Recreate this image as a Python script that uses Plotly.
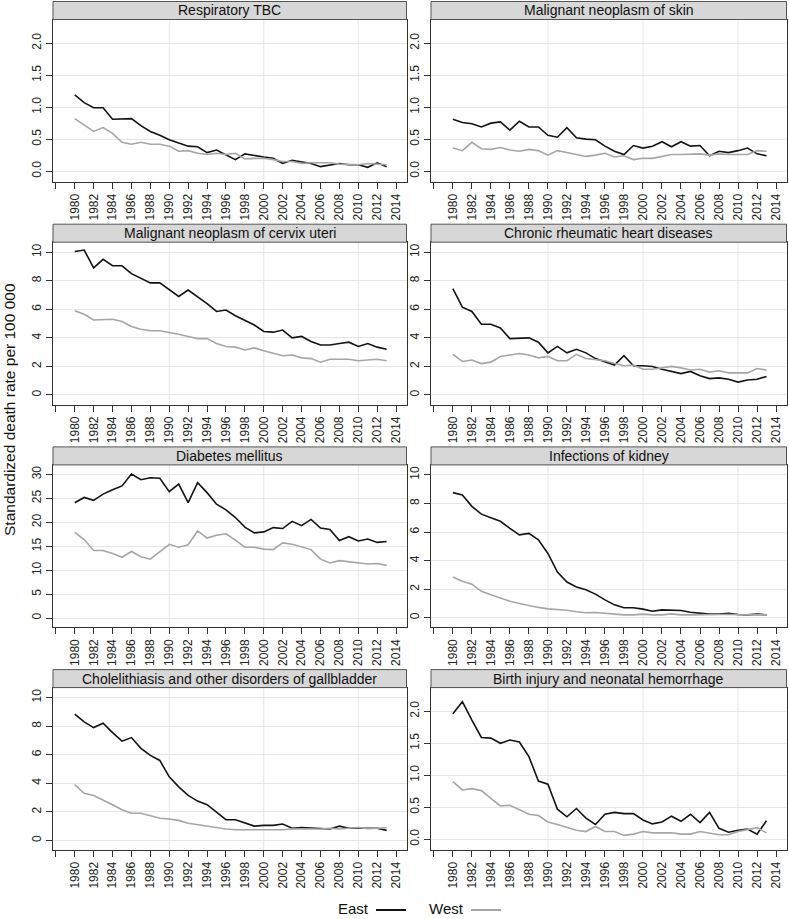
import plotly.graph_objects as go
from plotly.subplots import make_subplots

W, H = 789, 919

years = list(range(1980, 2014))

titles = [
    "Respiratory TBC", "Malignant neoplasm of skin",
    "Malignant neoplasm of cervix uteri", "Chronic rheumatic heart diseases",
    "Diabetes mellitus", "Infections of kidney",
    "Cholelithiasis and other disorders of gallbladder", "Birth injury and neonatal hemorrhage",
]

tbc_east = [1.19, 1.07, 0.99, 0.99, 0.81, 0.81, 0.82, 0.71, 0.62, 0.56, 0.49, 0.44, 0.39, 0.38, 0.29, 0.33, 0.26,
            0.18, 0.27, 0.24, 0.22, 0.20, 0.12, 0.17, 0.14, 0.12, 0.07, 0.09, 0.12, 0.10, 0.10, 0.06, 0.13, 0.07]
tbc_west = [0.82, 0.72, 0.62, 0.68, 0.59, 0.45, 0.42, 0.45, 0.42, 0.42, 0.39, 0.31, 0.32, 0.28, 0.26, 0.28, 0.26,
            0.28, 0.19, 0.20, 0.20, 0.18, 0.15, 0.15, 0.12, 0.13, 0.13, 0.13, 0.11, 0.10, 0.10, 0.12, 0.11, 0.10]

skin_east = [0.81, 0.76, 0.74, 0.69, 0.75, 0.77, 0.64, 0.78, 0.69, 0.69, 0.56, 0.53, 0.68, 0.52, 0.50, 0.49, 0.39,
             0.31, 0.26, 0.40, 0.36, 0.39, 0.46, 0.38, 0.46, 0.39, 0.40, 0.24, 0.31, 0.29, 0.32, 0.36, 0.27, 0.24]
skin_west = [0.36, 0.32, 0.45, 0.35, 0.34, 0.37, 0.33, 0.31, 0.34, 0.32, 0.25, 0.32, 0.29, 0.26, 0.23, 0.25, 0.28,
             0.22, 0.24, 0.18, 0.20, 0.20, 0.23, 0.26, 0.26, 0.26, 0.27, 0.25, 0.27, 0.26, 0.26, 0.26, 0.32, 0.31]

cervix_east = [10.05, 10.15, 8.9, 9.5, 9.05, 9.05, 8.5, 8.2, 7.85, 7.85, 7.35, 6.9, 7.35, 6.9, 6.4, 5.85, 5.95,
               5.55, 5.25, 4.9, 4.45, 4.4, 4.55, 4.0, 4.1, 3.75, 3.5, 3.5, 3.6, 3.7, 3.4, 3.6, 3.35, 3.2]
cervix_west = [5.9, 5.65, 5.25, 5.25, 5.3, 5.15, 4.8, 4.6, 4.5, 4.5, 4.4, 4.25, 4.1, 3.95, 3.95, 3.6, 3.4,
               3.35, 3.15, 3.3, 3.1, 2.95, 2.75, 2.8, 2.6, 2.55, 2.3, 2.5, 2.5, 2.5, 2.4, 2.45, 2.5, 2.4]

rheum_east = [7.45, 6.15, 5.85, 4.95, 4.95, 4.7, 3.95, 4.0, 4.0, 3.7, 2.95, 3.4, 2.95, 3.2, 2.95, 2.55, 2.3,
              2.1, 2.75, 2.05, 2.05, 2.0, 1.8, 1.65, 1.5, 1.65, 1.35, 1.15, 1.2, 1.1, 0.9, 1.05, 1.1, 1.3]
rheum_west = [2.85, 2.35, 2.45, 2.2, 2.3, 2.7, 2.8, 2.9, 2.8, 2.6, 2.7, 2.4, 2.4, 2.85, 2.55, 2.5, 2.4,
              2.2, 2.05, 2.1, 1.8, 1.8, 1.9, 2.0, 1.9, 1.75, 1.8, 1.6, 1.7, 1.55, 1.55, 1.55, 1.85, 1.75]

diab_east = [24.1, 25.2, 24.6, 25.9, 26.8, 27.6, 30.1, 28.9, 29.3, 29.2, 26.4, 28.0, 24.1, 28.3, 26.2, 23.8, 22.6,
             21.0, 19.0, 17.8, 18.0, 18.9, 18.7, 20.2, 19.3, 20.6, 18.8, 18.5, 16.2, 17.0, 16.1, 16.5, 15.8, 16.0]
diab_west = [17.9, 16.4, 14.1, 14.1, 13.5, 12.7, 13.9, 12.8, 12.3, 13.8, 15.4, 14.8, 15.3, 18.2, 16.7, 17.3, 17.6,
             16.3, 14.8, 14.8, 14.4, 14.3, 15.7, 15.4, 14.8, 14.3, 12.3, 11.5, 12.0, 11.8, 11.6, 11.3, 11.4, 11.0]

kidney_east = [8.76, 8.6, 7.8, 7.25, 7.0, 6.75, 6.25, 5.8, 5.9, 5.45, 4.5, 3.2, 2.5, 2.15, 1.95, 1.65, 1.25,
               0.9, 0.7, 0.7, 0.6, 0.45, 0.55, 0.5, 0.5, 0.38, 0.3, 0.25, 0.25, 0.3, 0.22, 0.2, 0.25, 0.2]
kidney_west = [2.85, 2.55, 2.35, 1.85, 1.6, 1.35, 1.15, 1.0, 0.85, 0.72, 0.62, 0.58, 0.52, 0.42, 0.35, 0.36, 0.3,
               0.27, 0.2, 0.2, 0.25, 0.2, 0.2, 0.27, 0.2, 0.2, 0.22, 0.22, 0.22, 0.22, 0.2, 0.18, 0.2, 0.2]

gall_east = [8.85, 8.3, 7.9, 8.2, 7.55, 6.95, 7.2, 6.45, 5.95, 5.6, 4.45, 3.75, 3.15, 2.75, 2.5, 1.95, 1.45,
             1.45, 1.25, 1.0, 1.05, 1.05, 1.15, 0.85, 0.9, 0.85, 0.8, 0.8, 1.0, 0.85, 0.85, 0.85, 0.85, 0.7]
gall_west = [3.9, 3.3, 3.15, 2.85, 2.5, 2.15, 1.9, 1.9, 1.7, 1.55, 1.5, 1.4, 1.2, 1.1, 0.98, 0.88, 0.8,
             0.75, 0.75, 0.75, 0.72, 0.72, 0.75, 0.8, 0.78, 0.8, 0.8, 0.85, 0.8, 0.85, 0.9, 0.82, 0.85, 0.88]

birth_east = [1.96, 2.15, 1.86, 1.59, 1.58, 1.50, 1.55, 1.52, 1.29, 0.91, 0.86, 0.47, 0.35, 0.48, 0.33, 0.23, 0.39,
              0.42, 0.40, 0.40, 0.30, 0.24, 0.27, 0.36, 0.28, 0.39, 0.26, 0.42, 0.17, 0.11, 0.14, 0.16, 0.08, 0.29]
birth_west = [0.90, 0.77, 0.79, 0.76, 0.64, 0.52, 0.53, 0.46, 0.39, 0.37, 0.27, 0.23, 0.19, 0.14, 0.12, 0.20, 0.12,
              0.12, 0.06, 0.08, 0.12, 0.10, 0.10, 0.10, 0.08, 0.08, 0.12, 0.09, 0.07, 0.07, 0.12, 0.15, 0.18, 0.10]

east = [tbc_east, skin_east, cervix_east, rheum_east, diab_east, kidney_east, gall_east, birth_east]
west = [tbc_west, skin_west, cervix_west, rheum_west, diab_west, kidney_west, gall_west, birth_west]

# y axis settings per panel: (range, tick values, tick labels)
small = ([-0.17, 2.37], [0, 0.5, 1, 1.5, 2], ["0.0", "0.5", "1.0", "1.5", "2.0"])
ten = ([-0.68, 10.7], [0, 2, 4, 6, 8, 10], ["0", "2", "4", "6", "8", "10"])
thirty = ([-1.96, 32.0], [0, 5, 10, 15, 20, 25, 30], ["0", "5", "10", "15", "20", "25", "30"])
yaxes = [small, small, ten, ten, thirty, ten, ten, small]

xtickvals = list(range(1978, 2015, 2))
xticktext = [""] + [str(v) for v in xtickvals[1:]]

EAST_COLOR = "#141414"
WEST_COLOR = "#a6a6a6"
FONT = "Arial, Liberation Sans, sans-serif"

# panel geometry in pixels
col_x = [(53, 406.5), (431, 786.5)]
row_top = [1.5, 224.2, 446.9, 669.6]
strip_h = 18
plot_h = 162.5

fig = make_subplots(rows=4, cols=2)

for i in range(8):
    r, c = i // 2 + 1, i % 2 + 1
    fig.add_trace(go.Scatter(x=years, y=east[i], mode="lines", name="East",
                             line=dict(color=EAST_COLOR, width=1.6), showlegend=False), row=r, col=c)
    fig.add_trace(go.Scatter(x=years, y=west[i], mode="lines", name="West",
                             line=dict(color=WEST_COLOR, width=1.6), showlegend=False), row=r, col=c)
    for gx in [1990, 2000, 2010]:
        fig.add_vline(x=gx, line=dict(color="#e6e6e6", width=1), layer="below", row=r, col=c)

    x0, x1 = col_x[c - 1]
    top = row_top[r - 1]
    p_top = top + strip_h
    p_bot = p_top + plot_h
    fig.update_xaxes(domain=[x0 / W, x1 / W], range=[1977.7, 2015.1],
                     tickmode="array", tickvals=xtickvals, ticktext=xticktext, tickangle=-90,
                     ticks="outside", ticklen=6, tickcolor="#333333", showgrid=False, zeroline=False,
                     showline=True, linecolor="#333333", linewidth=1, mirror=True,
                     tickfont=dict(size=12, color="#222222"), row=r, col=c)
    yr, yv, yt = yaxes[i]
    fig.update_yaxes(domain=[1 - p_bot / H, 1 - p_top / H], range=yr,
                     tickmode="array", tickvals=yv, ticktext=yt, tickangle=-90,
                     ticks="outside", ticklen=6, tickcolor="#333333", showgrid=True,
                     gridcolor="#e6e6e6", gridwidth=1, zeroline=False,
                     showline=True, linecolor="#333333", linewidth=1, mirror=True,
                     tickfont=dict(size=12, color="#222222"), row=r, col=c)

    # grey strip with the panel title
    fig.add_shape(type="rect", xref="paper", yref="paper",
                  x0=x0 / W, x1=x1 / W, y0=1 - p_top / H, y1=1 - top / H,
                  fillcolor="#d7d7d7", line=dict(color="#555555", width=1), layer="above")
    fig.add_annotation(text=titles[i], xref="paper", yref="paper",
                       x=(x0 + x1) / 2 / W, y=1 - (top + strip_h / 2) / H,
                       showarrow=False, font=dict(size=14, color="#111111"),
                       xanchor="center", yanchor="middle")

# y axis title
fig.add_annotation(text="Standardized death rate per 100 000", xref="paper", yref="paper",
                   x=9 / W, y=1 - 410 / H, textangle=-90, showarrow=False,
                   font=dict(size=15.5, color="#111111"), xanchor="center", yanchor="middle")

# legend: label to the left of its line sample
legend_y = 908
legend_items = [("East", EAST_COLOR, 371, 376, 406), ("West", WEST_COLOR, 466, 471, 501)]
for label, color, tx, lx0, lx1 in legend_items:
    fig.add_annotation(text=label, xref="paper", yref="paper", x=tx / W, y=1 - legend_y / H,
                       showarrow=False, xanchor="right", yanchor="middle",
                       font=dict(size=15, color="#111111"))
    fig.add_shape(type="line", xref="paper", yref="paper", x0=lx0 / W, x1=lx1 / W,
                  y0=1 - (legend_y + 2) / H, y1=1 - (legend_y + 2) / H, line=dict(color=color, width=2))

fig.update_layout(width=W, height=H, margin=dict(l=0, r=0, t=0, b=0),
                  paper_bgcolor="white", plot_bgcolor="white",
                  font=dict(family=FONT, size=12, color="#111111"), showlegend=False)

# drop the page's default body margin so the figure fills the window exactly
fig.write_html("out.html", config={"displayModeBar": False},
               post_script="document.body.style.margin='0';")
